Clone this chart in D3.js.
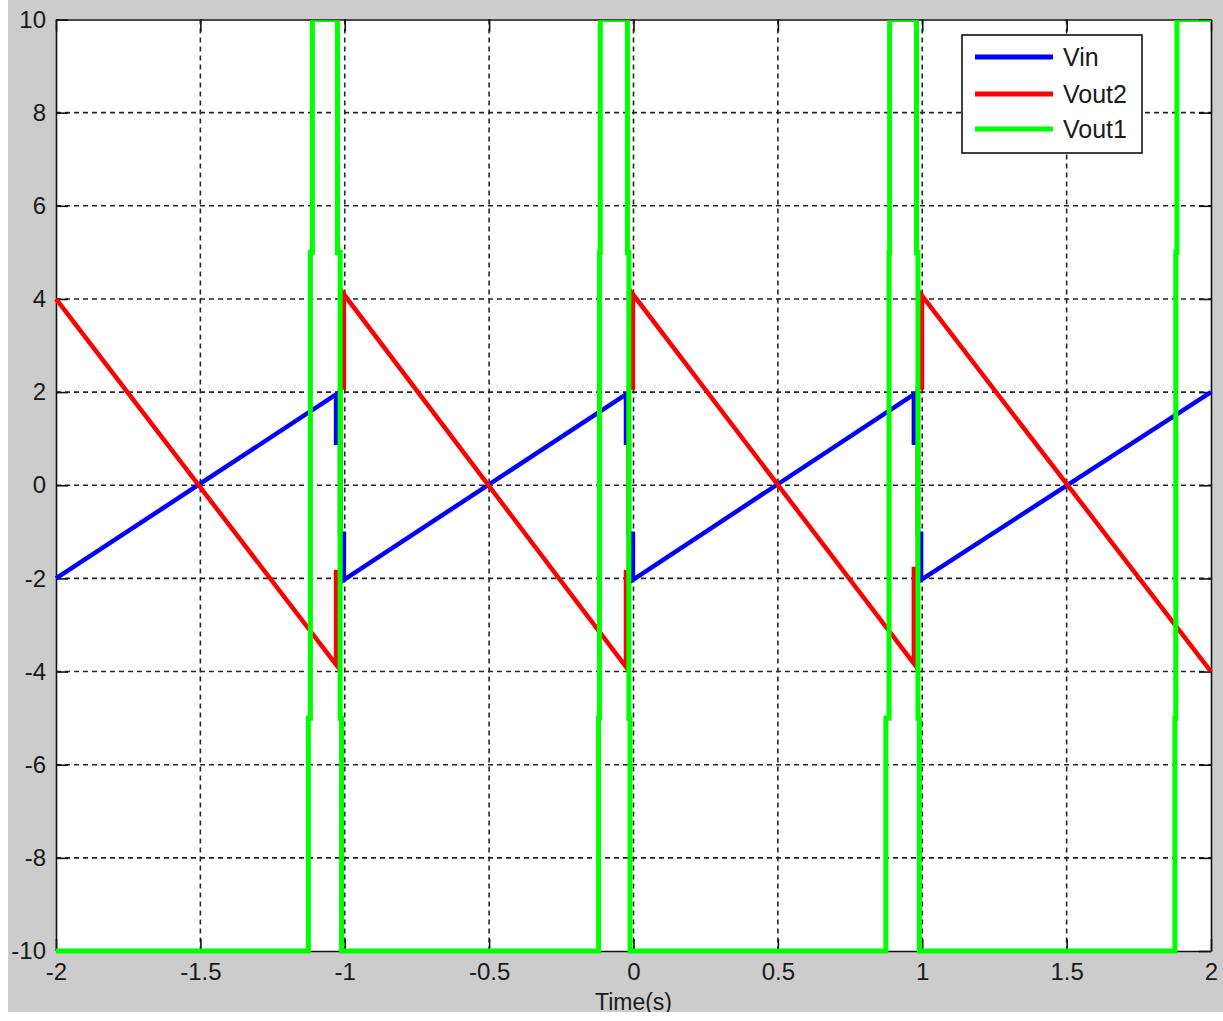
<!DOCTYPE html>
<html>
<head>
<meta charset="utf-8">
<script src="https://cdn.jsdelivr.net/npm/d3@7"></script>
<style>
  html, body { margin: 0; padding: 0; background: #ffffff; }
  svg { display: block; }
  text { font-family: "Liberation Sans", Arial, sans-serif; }
</style>
</head>
<body>
<svg id="chart" width="1223" height="1021"></svg>
<script>
// ---------------- data ----------------
const xTicks = [-2, -1.5, -1, -0.5, 0, 0.5, 1, 1.5, 2];
const xTickLabels = ["-2", "-1.5", "-1", "-0.5", "0", "0.5", "1", "1.5", "2"];
const yTicks = [-10, -8, -6, -4, -2, 0, 2, 4, 6, 8, 10];
const yTickLabels = ["-10", "-8", "-6", "-4", "-2", "0", "2", "4", "6", "8", "10"];
const xLabel = "Time(s)";
const seriesNames = ["Vin", "Vout2", "Vout1"];
const seriesColors = ["#0000ff", "#ff0000", "#00ff00"];

// [time, value]
const vin = [
  [-2, -2], [-1.03, 1.95], [-1.03, 0.91], [-1.016, 0.91], [-1.016, -1.04], [-1.003, -1.04], [-1.003, -2.03],
  [-0.026, 1.95], [-0.026, 0.91], [-0.016, 0.91], [-0.016, -1.04], [-0.002, -1.04], [-0.002, -2.03],
  [0.971, 1.95], [0.971, 0.91], [0.985, 0.91], [0.985, -1.04], [0.996, -1.04], [0.996, -2.03],
  [2, 2]
];
const vout2 = [
  [-2, 4], [-1.03, -3.85], [-1.03, -1.86], [-1.016, -1.86], [-1.016, 2.1], [-1.003, 2.1], [-1.003, 4.1],
  [-0.026, -3.9], [-0.026, -1.86], [-0.016, -1.86], [-0.016, 2.1], [-0.002, 2.1], [-0.002, 4.1],
  [0.971, -3.83], [0.971, -1.8], [0.985, -1.8], [0.985, 2.1], [0.999, 2.1], [0.999, 4.07],
  [2, -4]
];
const vout1 = [
  [-2, -10],
  [-1.126, -10], [-1.126, -5], [-1.119, -5], [-1.119, 5], [-1.112, 5], [-1.112, 10],
  [-1.025, 10], [-1.025, 5], [-1.016, 5], [-1.016, -5], [-1.011, -5], [-1.011, -10],
  [-0.121, -10], [-0.121, -5], [-0.118, -5], [-0.118, 5], [-0.115, 5], [-0.115, 10],
  [-0.021, 10], [-0.021, 5], [-0.016, 5], [-0.016, -5], [-0.012, -5], [-0.012, -10],
  [0.874, -10], [0.874, -5], [0.885, -5], [0.885, 5], [0.887, 5], [0.887, 10],
  [0.980, 10], [0.980, 5], [0.985, 5], [0.985, -5], [0.990, -5], [0.990, -10],
  [1.875, -10], [1.875, -5], [1.878, -5], [1.878, 5], [1.882, 5], [1.882, 10],
  [2, 10]
];
const series = [vin, vout2, vout1];

// ---------------- layout ----------------
const W = 1223, H = 1021;
const plot = { left: 56, right: 1211, top: 19.5, bottom: 951 };

const svg = d3.select("#chart");

// figure background (grey), with white margin strips as in the capture
svg.append("rect").attr("x", 0).attr("y", 0).attr("width", W).attr("height", H).attr("fill", "#ffffff");
svg.append("rect").attr("x", 8).attr("y", 0).attr("width", W - 8).attr("height", 1012).attr("fill", "#cccccc");

const x = d3.scaleLinear().domain([-2, 2]).range([plot.left, plot.right]);
const y = d3.scaleLinear().domain([-10, 10]).range([plot.bottom, plot.top]);

// axes area
svg.append("rect")
  .attr("x", plot.left).attr("y", plot.top)
  .attr("width", plot.right - plot.left).attr("height", plot.bottom - plot.top)
  .attr("fill", "#ffffff");

// grid
const gridColor = "#262626";
const grid = svg.append("g");
grid.selectAll("line.vx").data(xTicks.slice(1, -1)).join("line")
  .attr("x1", d => x(d)).attr("x2", d => x(d))
  .attr("y1", plot.top).attr("y2", plot.bottom)
  .attr("stroke", gridColor).attr("stroke-width", 1.6).attr("stroke-dasharray", "5,4");
grid.selectAll("line.hy").data(yTicks.slice(1, -1)).join("line")
  .attr("x1", plot.left).attr("x2", plot.right)
  .attr("y1", d => y(d)).attr("y2", d => y(d))
  .attr("stroke", gridColor).attr("stroke-width", 1.6).attr("stroke-dasharray", "5,4");

// axes (inward ticks on all four sides)
const tickLen = 12;
const fmtX = d => xTickLabels[xTicks.indexOf(d)];
const fmtY = d => yTickLabels[yTicks.indexOf(d)];

const axB = svg.append("g").attr("transform", `translate(0,${plot.bottom})`)
  .call(d3.axisBottom(x).tickValues(xTicks).tickFormat(fmtX).tickSizeInner(-tickLen).tickSizeOuter(0).tickPadding(12));
const axT = svg.append("g").attr("transform", `translate(0,${plot.top})`)
  .call(d3.axisTop(x).tickValues(xTicks).tickFormat("").tickSizeInner(-tickLen).tickSizeOuter(0));
const axL = svg.append("g").attr("transform", `translate(${plot.left},0)`)
  .call(d3.axisLeft(y).tickValues(yTicks).tickFormat(fmtY).tickSizeInner(-tickLen).tickSizeOuter(0).tickPadding(10));
const axR = svg.append("g").attr("transform", `translate(${plot.right},0)`)
  .call(d3.axisRight(y).tickValues(yTicks).tickFormat("").tickSizeInner(-tickLen).tickSizeOuter(0));

[axB, axT, axL, axR].forEach(a => {
  a.select(".domain").attr("stroke", "#111").attr("stroke-width", 1.6);
  a.selectAll(".tick line").attr("stroke", "#111").attr("stroke-width", 1.6);
  a.selectAll("text").attr("fill", "#1a1a1a").style("font-size", "24px")
    .style("font-family", "\"Liberation Sans\", Arial, sans-serif");
});
axB.selectAll("text").attr("dy", "0.71em");

// x label
svg.append("text")
  .attr("x", x(0)).attr("y", 1010)
  .attr("text-anchor", "middle")
  .attr("fill", "#1a1a1a")
  .style("font-size", "23px")
  .text(xLabel);

// data lines
svg.append("clipPath").attr("id", "clip")
  .append("rect").attr("x", plot.left - 3).attr("y", plot.top + 0.8)
  .attr("width", plot.right - plot.left + 6).attr("height", plot.bottom - plot.top + 10);

const line = d3.line().x(d => x(d[0])).y(d => y(d[1]));
const lines = svg.append("g").attr("clip-path", "url(#clip)");
series.forEach((s, i) => {
  lines.append("path")
    .datum(s)
    .attr("d", line)
    .attr("fill", "none")
    .attr("stroke", seriesColors[i])
    .attr("stroke-width", i === 2 ? 5 : 4.5)
    .attr("stroke-linejoin", "miter")
    .attr("stroke-linecap", "butt");
});

// cover anything below the figure edge
svg.append("rect").attr("x", 0).attr("y", 1012).attr("width", W).attr("height", H - 1012).attr("fill", "#ffffff");

// legend
const lg = svg.append("g");
lg.append("rect")
  .attr("x", 962).attr("y", 35).attr("width", 180).attr("height", 118)
  .attr("fill", "#ffffff").attr("stroke", "#111").attr("stroke-width", 1.6);
const legendY = [57, 94, 129];
seriesNames.forEach((name, i) => {
  lg.append("line")
    .attr("x1", 975).attr("x2", 1053)
    .attr("y1", legendY[i]).attr("y2", legendY[i])
    .attr("stroke", seriesColors[i]).attr("stroke-width", 5);
  lg.append("text")
    .attr("x", 1063).attr("y", legendY[i])
    .attr("dy", "0.36em")
    .attr("fill", "#1a1a1a")
    .style("font-size", "25px")
    .text(name);
});
</script>
</body>
</html>
